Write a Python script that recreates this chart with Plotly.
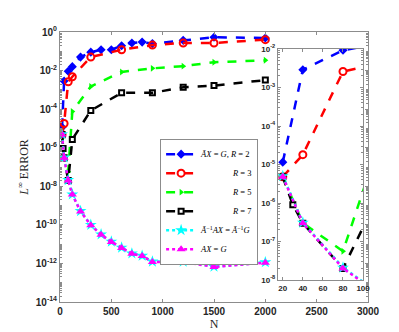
import numpy as np
import plotly.graph_objects as go

# grid sizes
n_all = [20, 40, 80, 120, 200, 300, 400, 500, 600, 700, 800, 900, 1200, 1500, 2000]
n_sparse = [20, 40, 80, 120, 300, 600, 900, 1200, 1500, 2000]
n_r7 = [20, 30, 40, 80, 120, 300, 600, 900, 1200, 1500, 2000]

# errors
err_r2 = [1.15e-5, 2.9e-3, 9.3e-3, 1.6e-2, 5.0e-2, 9.0e-2, 1.2e-1, 1.2e-1,
          1.95e-1, 2.7e-1, 3.0e-1, 2.5e-1, 3.7e-1, 5.3e-1, 4.9e-1]
err_r3 = [4.8e-6, 1.8e-5, 2.6e-3, 4.8e-3, 5.0e-2, 1.2e-1, 2.1e-1, 2.7e-1, 2.7e-1, 4.0e-1]
err_r5 = [4.8e-6, 3.0e-7, 5.6e-8, 7.5e-5, 1.5e-3, 8.5e-3, 1.3e-2, 1.7e-2, 2.7e-2, 3.4e-2]
err_r7 = [4.8e-6, 9.0e-7, 3.0e-7, 2.0e-8, 2.7e-6, 8.5e-5, 7.0e-4, 7.0e-4, 1.35e-3, 1.66e-3, 3.2e-3]
err_prec = [5.0e-6, 3.1e-7, 2.1e-8, 3.8e-9, 5.2e-10, 1.0e-10, 3.2e-11, 1.35e-11,
            6.6e-12, 3.3e-12, 2.5e-12, 1.25e-12, 1.25e-12, 6.8e-13, 1.15e-12]
err_full = [4.8e-6, 3.0e-7, 2.0e-8, 3.7e-9, 5.0e-10, 9.6e-11, 3.1e-11, 1.3e-11,
            6.4e-12, 3.2e-12, 2.4e-12, 1.2e-12, 1.2e-12, 6.6e-13, 1.1e-12]

pad = "\u00a0" * 15
names = ["<i>Ã</i><i>X</i> = <i>G</i>, <i>R</i> = 2",
         pad + "<i>R</i> = 3",
         pad + "<i>R</i> = 5",
         pad + "<i>R</i> = 7",
         "<i>Ã</i><sup>−1</sup><i>AX</i> = <i>Ã</i><sup>−1</sup><i>G</i>",
         "<i>AX</i> = <i>G</i>"]

main_yticks = [1e-14, 1e-12, 1e-10, 1e-8, 1e-6, 1e-4, 1e-2, 1]
main_ylabels = ["10<sup>-14</sup>", "10<sup>-12</sup>", "10<sup>-10</sup>", "10<sup>-8</sup>",
                "10<sup>-6</sup>", "10<sup>-4</sup>", "10<sup>-2</sup>", "10<sup>0</sup>"]
inset_yticks = [1e-8, 1e-7, 1e-6, 1e-5, 1e-4, 1e-3, 1e-2]
inset_ylabels = ["10<sup>-8</sup>", "10<sup>-7</sup>", "10<sup>-6</sup>", "10<sup>-5</sup>",
                 "10<sup>-4</sup>", "10<sup>-3</sup>", "10<sup>-2</sup>"]


def minor_log(lo, hi):
    vals = []
    for k in range(lo, hi):
        vals += [m * 10.0 ** k for m in range(2, 10)]
    return vals


series = [
    (n_all, err_r2, "#0000ff", "dash", dict(symbol="diamond", size=7, color="#0000ff")),
    (n_sparse, err_r3, "#ff0000", "dash",
     dict(symbol="circle-open", size=7, color="#ff0000", line=dict(width=2, color="#ff0000"))),
    (n_sparse, err_r5, "#00ff00", "dash", dict(symbol="triangle-right", size=6, color="#00ff00")),
    (n_r7, err_r7, "#000000", "dash",
     dict(symbol="square-open", size=5, color="#000000", line=dict(width=2, color="#000000"))),
    (n_all, err_prec, "#00ffff", "dot", dict(symbol="star", size=9, color="#00ffff")),
    (n_all, err_full, "#ff00ff", "dot", dict(symbol="triangle-up", size=8, color="#ff00ff")),
]

fig = go.Figure()
for (x, y, c, d, m), nm in zip(series, names):
    fig.add_trace(go.Scatter(x=x, y=y, mode="lines+markers", name=nm,
                             line=dict(color=c, dash=d, width=2.5), marker=m))
for (x, y, c, d, m) in series:
    fig.add_trace(go.Scatter(x=x, y=y, mode="lines+markers", showlegend=False,
                             line=dict(color=c, dash=d, width=2.5), marker=m,
                             xaxis="x2", yaxis="y2"))

axcol = "#8c8c8c"
tickfont = dict(family="Liberation Sans", size=10, color="#262626", weight="bold")

fig.update_layout(
    width=399, height=332,
    margin=dict(l=52, r=39, t=24, b=38),
    paper_bgcolor="white", plot_bgcolor="white",
    showlegend=True,
    legend=dict(x=0.325, y=0.605, xanchor="left", yanchor="top",
                bgcolor="white", bordercolor=axcol, borderwidth=1,
                font=dict(family="Liberation Serif", size=8.5, color="#000000"),
                itemwidth=30, tracegroupgap=0),
    xaxis=dict(domain=[0, 1], range=[0, 3000], tickvals=list(range(0, 3001, 500)),
               showline=True, linecolor=axcol, mirror="ticks", ticks="inside",
               ticklen=3, tickcolor=axcol, showgrid=False, zeroline=False,
               tickfont=tickfont,
               title=dict(text="N", standoff=2,
                          font=dict(family="Liberation Serif", size=12, color="#262626"))),
    yaxis=dict(domain=[0, 1], type="log", range=[-14, 0], tickmode="array",
               tickvals=main_yticks, ticktext=main_ylabels,
               showline=True, linecolor=axcol, mirror="ticks", ticks="inside",
               ticklen=3, tickcolor=axcol, showgrid=False, zeroline=False,
               tickfont=tickfont,
               minor=dict(tickmode="array", tickvals=minor_log(-14, 0) + [10.0 ** k for k in range(-13, 0, 2)],
                          ticks="inside", ticklen=2, tickcolor=axcol),
               title=dict(text="<i>L</i><sup>∞</sup> ERROR", standoff=4,
                          font=dict(family="Liberation Serif", size=12, color="#262626"))),
    xaxis2=dict(domain=[0.707, 0.984], anchor="y2", range=[15, 100],
                tickvals=[20, 40, 60, 80, 100],
                showline=True, linecolor=axcol, mirror="ticks", ticks="inside",
                ticklen=3, tickcolor=axcol, showgrid=False, zeroline=False,
                tickfont=dict(family="Liberation Sans", size=8, color="#262626", weight="bold")),
    yaxis2=dict(domain=[0.0815, 0.937], anchor="x2", type="log", range=[-8, -2],
                tickmode="array", tickvals=inset_yticks, ticktext=inset_ylabels,
                showline=True, linecolor=axcol, mirror="ticks", ticks="inside",
                ticklen=3, tickcolor=axcol, showgrid=False, zeroline=False,
                tickfont=dict(family="Liberation Sans", size=8, color="#262626", weight="bold"),
                minor=dict(tickmode="array", tickvals=minor_log(-8, -2),
                           ticks="inside", ticklen=2, tickcolor=axcol)),
    shapes=[dict(type="rect", xref="x2 domain", yref="y2 domain", x0=0, x1=1, y0=0, y1=1,
                 fillcolor="white", line=dict(width=0), layer="below")],
)

fig.write_html("out.html")
